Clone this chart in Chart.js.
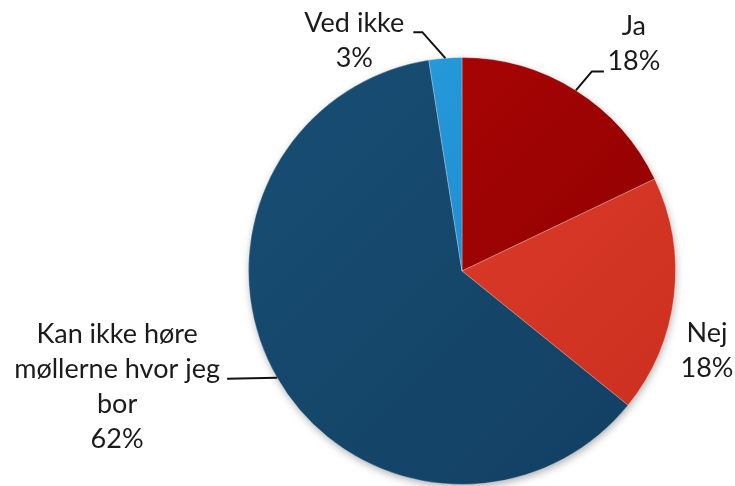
<!DOCTYPE html>
<html>
<head>
<meta charset="utf-8">
<script src="https://cdn.jsdelivr.net/npm/chart.js@4/dist/chart.umd.min.js"></script>
<style>
  html, body { margin: 0; padding: 0; background: #fff; }
  #wrap { width: 735px; height: 486px; position: relative; }
</style>
</head>
<body>
<div id="wrap"><canvas id="pie"></canvas></div>
<script>
// ---- data ----
const categories = ["Ja", "Nej", "Kan ikke høre møllerne hvor jeg bor", "Ved ikke"];
const labelLines = [["Ja"], ["Nej"], ["Kan ikke høre", "møllerne hvor jeg", "bor"], ["Ved ikke"]];
const pctLabels  = ["18%", "18%", "62%", "3%"];
const values     = [18, 18, 62, 2.5];   // slice sizes

// ---- styling ----
const colLight = ["#b00505", "#e6412e", "#184e74", "#2aa0e2"];
const colDark  = ["#880000", "#c92e1e", "#123f62", "#157ec0"];

// label placement, relative to the outer midpoint of each slice
// elbow / end: leader line points; tx: text centre x offset; ty: first baseline offset
const labelPos = [
  { elbow: [16, -19],  end: [28, -19],  tx: 58,   ty: -55 },
  { elbow: null,       end: null,       tx: 33,   ty: 46  },
  { elbow: null,       end: [-50, 1],   tx: -160, ty: -35 },
  { elbow: [-23, -26], end: [-32, -26], tx: -91,  ty: -26 }
];
const LINE_H = 35;
const FONT = "27px Lato, 'Noto Sans', sans-serif";

function sliceFill(ctx){
  const chart = ctx.chart;
  const a = chart.chartArea;
  if (!a) return colLight[ctx.dataIndex];
  const g = chart.ctx.createLinearGradient(a.left, a.top, a.right, a.bottom);
  g.addColorStop(0, colLight[ctx.dataIndex]);
  g.addColorStop(1, colDark[ctx.dataIndex]);
  return g;
}

// soft drop shadow under the whole pie
const shadowPlugin = {
  id: "shadow",
  beforeDatasetsDraw(chart){
    const arc = chart.getDatasetMeta(0).data[0];
    if (!arc) return;
    const c = chart.ctx;
    c.save();
    c.shadowColor = "rgba(0,0,0,0.35)";
    c.shadowBlur = 8;
    c.shadowOffsetX = 1;
    c.shadowOffsetY = 3;
    c.fillStyle = "#888";
    c.beginPath();
    c.arc(arc.x, arc.y, arc.outerRadius - 1, 0, Math.PI * 2);
    c.fill();
    c.restore();
  }
};

// data labels with leader lines
const labelPlugin = {
  id: "pieLabels",
  afterDatasetsDraw(chart){
    const c = chart.ctx;
    const arcs = chart.getDatasetMeta(0).data;
    c.save();
    c.font = FONT;
    c.fillStyle = "#1b1b1b";
    c.strokeStyle = "#111";
    c.lineWidth = 2;
    c.textAlign = "center";
    c.textBaseline = "alphabetic";
    arcs.forEach((arc, i) => {
      const p = arc.getProps(["x", "y", "startAngle", "endAngle", "outerRadius"], true);
      const mid = (p.startAngle + p.endAngle) / 2;
      const mx = p.x + Math.cos(mid) * p.outerRadius;
      const my = p.y + Math.sin(mid) * p.outerRadius;
      const L = labelPos[i];
      if (L.end){
        c.beginPath();
        c.moveTo(mx, my);
        if (L.elbow) c.lineTo(mx + L.elbow[0], my + L.elbow[1]);
        c.lineTo(mx + L.end[0], my + L.end[1]);
        c.stroke();
      }
      const lines = labelLines[i].concat([pctLabels[i]]);
      lines.forEach((t, k) => {
        c.fillText(t, mx + L.tx, my + L.ty + k * LINE_H);
      });
    });
    c.restore();
  }
};

new Chart(document.getElementById("pie"), {
  type: "pie",
  data: {
    labels: categories,
    datasets: [{
      data: values,
      backgroundColor: sliceFill,
      borderColor: "rgba(255,255,255,0.28)",
      borderWidth: 1
    }]
  },
  options: {
    responsive: true,
    maintainAspectRatio: false,
    animation: false,
    layout: { padding: { left: 248, right: 59, top: 57, bottom: 1 } },
    plugins: {
      legend: { display: false },
      tooltip: { enabled: false }
    }
  },
  plugins: [shadowPlugin, labelPlugin]
});
</script>
</body>
</html>
